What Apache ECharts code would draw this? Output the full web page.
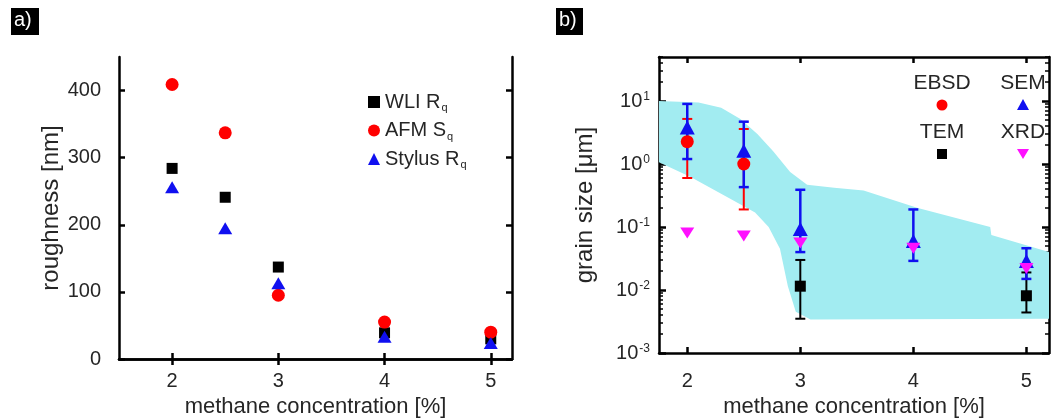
<!DOCTYPE html>
<html>
<head>
<meta charset="utf-8">
<script src="https://cdn.jsdelivr.net/npm/echarts@6/dist/echarts.min.js"></script>
<style>
  html, body { margin: 0; padding: 0; background: #fff; }
  #chart { width: 1061px; height: 420px; }
</style>
</head>
<body>
<div id="chart"></div>
<script>
// ---- a) roughness ----
const methane = [2, 2.5, 3, 4, 5];
const wliRq = [284, 241, 137, 39, 30];
const afmSq = [409, 337, 95, 55, 40];
const stylusRq = [256, 195, 113, 33, 24];
const xTicks = [2, 3, 4, 5];
const roughTicks = [0, 100, 200, 300, 400];

// ---- b) grain size ----
const ebsdX = [2, 2.5];
const ebsdVal = [2.26, 1.0];
const ebsdLow = [0.6, 0.19];
const ebsdHigh = [5.2, 3.6];
const semX = [2, 2.5, 3, 4, 5];
const semVal = [3.8, 1.63, 0.093, 0.06, 0.029];
const semLow = [1.2, 0.43, 0.04, 0.029, 0.015];
const semHigh = [9.0, 4.7, 0.39, 0.19, 0.046];
const temX = [3, 5];
const temVal = [0.0115, 0.0081];
const temLow = [0.0035, 0.0044];
const temHigh = [0.03, 0.019];
const xrdX = [2, 2.5, 3, 4, 5];
const xrdVal = [0.08, 0.072, 0.056, 0.046, 0.022];
// shaded band (upper / lower edge)
const bandUpX = [1.75, 2.1, 2.3, 2.47, 2.62, 2.76, 2.91, 3.06, 3.3, 3.56, 4.04, 4.68, 4.69, 5.2];
const bandUp = [10, 9.5, 7.8, 5.2, 3.0, 1.6, 0.75, 0.47, 0.42, 0.38, 0.2, 0.1, 0.075, 0.04];
const bandLoX = [1.75, 2.03, 2.38, 2.6, 2.72, 2.82, 2.89, 2.96, 3.09, 5.2];
const bandLo = [1.07, 0.62, 0.28, 0.17, 0.1, 0.045, 0.0115, 0.0045, 0.0034, 0.0035];
const logTicks = [0.001, 0.01, 0.1, 1, 10];

// minor ticks 2..9 per decade
const logMinor = [];
for (let e = -3; e <= 1; e++) {
  for (let m = 2; m <= 9; m++) {
    const v = m * Math.pow(10, e);
    if (v <= 50) logMinor.push(v);
  }
}

const FONT = 'Liberation Sans';
const TXT = '#262626';

function zip(xs, ...cols) {
  return xs.map((x, i) => [x].concat(cols.map(c => c[i])));
}

function errorBar(color, lw, cap) {
  return function (params, api) {
    const x = api.value(0);
    const lo = api.coord([x, api.value(1)]);
    const hi = api.coord([x, api.value(2)]);
    const style = { stroke: color, lineWidth: lw };
    return {
      type: 'group',
      children: [
        { type: 'line', shape: { x1: lo[0], y1: lo[1], x2: hi[0], y2: hi[1] }, style: style },
        { type: 'line', shape: { x1: lo[0] - cap, y1: lo[1], x2: lo[0] + cap, y2: lo[1] }, style: style },
        { type: 'line', shape: { x1: hi[0] - cap, y1: hi[1], x2: hi[0] + cap, y2: hi[1] }, style: style }
      ]
    };
  };
}

const axisLine = { show: true, lineStyle: { color: '#000', width: 2.5 } };
const tickStyle = { color: '#000', width: 2.5 };

function xAx(grid, min, pos, show, margin, gap) {
  return {
    type: 'value', gridIndex: grid, min: min, max: 5.2, position: pos,
    axisLine: axisLine,
    axisTick: { show: true, inside: true, length: 6, lineStyle: tickStyle, customValues: xTicks },
    axisLabel: { show: show, customValues: xTicks, fontFamily: FONT, fontSize: 20, color: TXT, margin: margin },
    splitLine: { show: false },
    name: show ? 'methane concentration [%]' : '',
    nameLocation: 'middle', nameGap: gap,
    nameTextStyle: { fontFamily: FONT, fontSize: 22, color: TXT }
  };
}

const option = {
  animation: false,
  backgroundColor: '#fff',
  grid: [
    { left: 119, top: 57, width: 393, height: 302, outerBoundsMode: 'none' },
    { left: 659, top: 57, width: 390, height: 296, outerBoundsMode: 'none' }
  ],
  xAxis: [
    xAx(0, 1.5, 'bottom', true, 12, 36),
    xAx(0, 1.5, 'top', false, 12, 36),
    xAx(1, 1.75, 'bottom', true, 18, 43),
    xAx(1, 1.75, 'top', false, 18, 43)
  ],
  yAxis: [
    {
      type: 'value', gridIndex: 0, min: 0, max: 450, position: 'left',
      axisLine: axisLine,
      axisTick: { inside: true, length: 6, lineStyle: tickStyle, customValues: roughTicks },
      axisLabel: { customValues: roughTicks, fontFamily: FONT, fontSize: 20, color: TXT, margin: 18 },
      splitLine: { show: false },
      name: 'roughness [nm]', nameLocation: 'middle', nameGap: 55,
      nameTextStyle: { fontFamily: FONT, fontSize: 24, color: TXT }
    },
    {
      type: 'value', gridIndex: 0, min: 0, max: 450, position: 'right',
      axisLine: axisLine,
      axisTick: { inside: true, length: 6, lineStyle: tickStyle, customValues: roughTicks },
      axisLabel: { show: false },
      splitLine: { show: false }
    },
    {
      type: 'log', logBase: 10, gridIndex: 1, min: 0.001, max: 50, position: 'left',
      axisLine: axisLine,
      axisTick: { inside: true, length: 7, lineStyle: tickStyle, customValues: logTicks },
      axisLabel: {
        customValues: logTicks, fontFamily: FONT, fontSize: 20, color: TXT, margin: 9,
        formatter: v => '10{sup|' + Math.round(Math.log10(v)) + '}',
        rich: { sup: { fontFamily: FONT, fontSize: 12, color: TXT, verticalAlign: 'top', padding: [0, 0, 6, 1] } }
      },
      splitLine: { show: false },
      name: 'grain size [μm]', nameLocation: 'middle', nameGap: 62,
      nameTextStyle: { fontFamily: FONT, fontSize: 24, color: TXT }
    },
    {
      type: 'log', logBase: 10, gridIndex: 1, min: 0.001, max: 50, position: 'right',
      axisLine: axisLine,
      axisTick: { inside: true, length: 7, lineStyle: tickStyle, customValues: logTicks },
      axisLabel: { show: false },
      splitLine: { show: false }
    },
    {
      type: 'log', logBase: 10, gridIndex: 1, min: 0.001, max: 50, position: 'left',
      axisLine: { show: false },
      axisTick: { inside: true, length: 4, lineStyle: { color: '#000', width: 1.5 }, customValues: logMinor },
      axisLabel: { show: false },
      splitLine: { show: false }
    },
    {
      type: 'log', logBase: 10, gridIndex: 1, min: 0.001, max: 50, position: 'right',
      axisLine: { show: false },
      axisTick: { inside: true, length: 4, lineStyle: { color: '#000', width: 1.5 }, customValues: logMinor },
      axisLabel: { show: false },
      splitLine: { show: false }
    }
  ],
  legend: {
    orient: 'vertical', left: 363, top: 87, itemGap: 7,
    itemWidth: 12, itemHeight: 12,
    data: ['WLI Rq', 'AFM Sq', 'Stylus Rq'],
    formatter: name => name.slice(0, -1) + '{sub|' + name.slice(-1) + '}',
    textStyle: {
      fontFamily: FONT, fontSize: 20, color: TXT,
      rich: { sub: { fontFamily: FONT, fontSize: 11, color: TXT, verticalAlign: 'bottom', padding: [12, 0, 0, 1] } }
    }
  },
  graphic: [
    { type: 'rect', left: 11, top: 8, shape: { width: 28, height: 27 }, style: { fill: '#000' } },
    { type: 'text', left: 14, top: 10, style: { text: 'a)', fill: '#fff', font: '20px ' + FONT } },
    { type: 'rect', left: 556, top: 8, shape: { width: 27, height: 27 }, style: { fill: '#000' } },
    { type: 'text', left: 559, top: 10, style: { text: 'b)', fill: '#fff', font: '20px ' + FONT } },
    // legend of b)
    { type: 'text', x: 942, y: 83, style: { text: 'EBSD', fill: TXT, font: '21px ' + FONT, align: 'center', verticalAlign: 'middle' } },
    { type: 'circle', shape: { cx: 942, cy: 105, r: 5.5 }, style: { fill: '#ff0000' } },
    { type: 'text', x: 1023, y: 83, style: { text: 'SEM', fill: TXT, font: '21px ' + FONT, align: 'center', verticalAlign: 'middle' } },
    { type: 'polygon', shape: { points: [[1017, 110], [1029, 110], [1023, 99]] }, style: { fill: '#1010f0' } },
    { type: 'text', x: 942, y: 132, style: { text: 'TEM', fill: TXT, font: '21px ' + FONT, align: 'center', verticalAlign: 'middle' } },
    { type: 'rect', shape: { x: 937, y: 149, width: 10, height: 10 }, style: { fill: '#000' } },
    { type: 'text', x: 1023, y: 132, style: { text: 'XRD', fill: TXT, font: '21px ' + FONT, align: 'center', verticalAlign: 'middle' } },
    { type: 'polygon', shape: { points: [[1017, 149], [1029, 149], [1023, 159]] }, style: { fill: '#ff10ff' } }
  ],
  series: [
    {
      name: 'WLI Rq', type: 'scatter', xAxisIndex: 0, yAxisIndex: 0,
      symbol: 'rect', symbolSize: 11, itemStyle: { color: '#000', opacity: 1 },
      data: zip(methane, wliRq)
    },
    {
      name: 'AFM Sq', type: 'scatter', xAxisIndex: 0, yAxisIndex: 0,
      symbol: 'circle', symbolSize: 13, itemStyle: { color: '#ff0000', opacity: 1 },
      data: zip(methane, afmSq)
    },
    {
      name: 'Stylus Rq', type: 'scatter', xAxisIndex: 0, yAxisIndex: 0,
      symbol: 'triangle', symbolSize: [14, 12], itemStyle: { color: '#1010f0', opacity: 1 },
      data: zip(methane, stylusRq)
    },
    // b) band
    {
      type: 'custom', xAxisIndex: 2, yAxisIndex: 2, clip: true, silent: true,
      data: zip(bandUpX, bandUp),
      encode: { x: 0, y: 1 },
      renderItem: function (params, api) {
        if (params.dataIndex !== 0) return null;
        const pts = [];
        for (let i = 0; i < bandUpX.length; i++) pts.push(api.coord([bandUpX[i], bandUp[i]]));
        for (let i = bandLoX.length - 1; i >= 0; i--) pts.push(api.coord([bandLoX[i], bandLo[i]]));
        return { type: 'polygon', shape: { points: pts }, style: { fill: '#a2ecf1' } };
      }
    },
    {
      type: 'custom', xAxisIndex: 2, yAxisIndex: 2,
      data: zip(temX, temLow, temHigh), encode: { x: 0, y: [1, 2] },
      renderItem: errorBar('#000', 2, 5)
    },
    {
      type: 'scatter', xAxisIndex: 2, yAxisIndex: 2,
      symbol: 'rect', symbolSize: 11, itemStyle: { color: '#000', opacity: 1 },
      data: zip(temX, temVal)
    },
    {
      type: 'custom', xAxisIndex: 2, yAxisIndex: 2,
      data: zip(ebsdX, ebsdLow, ebsdHigh), encode: { x: 0, y: [1, 2] },
      renderItem: errorBar('#ff0000', 2, 5)
    },
    {
      type: 'scatter', xAxisIndex: 2, yAxisIndex: 2,
      symbol: 'circle', symbolSize: 13, itemStyle: { color: '#ff0000', opacity: 1 },
      data: zip(ebsdX, ebsdVal)
    },
    {
      type: 'custom', xAxisIndex: 2, yAxisIndex: 2,
      data: zip(semX, semLow, semHigh), encode: { x: 0, y: [1, 2] },
      renderItem: errorBar('#1010f0', 2.5, 5)
    },
    {
      type: 'scatter', xAxisIndex: 2, yAxisIndex: 2,
      symbol: 'triangle', symbolSize: [15, 14], itemStyle: { color: '#1010f0', opacity: 1 },
      data: zip(semX, semVal)
    },
    {
      type: 'scatter', xAxisIndex: 2, yAxisIndex: 2,
      symbol: 'triangle', symbolRotate: 180, symbolSize: [14, 11], itemStyle: { color: '#ff10ff', opacity: 1 },
      data: zip(xrdX, xrdVal)
    }
  ]
};

const chart = echarts.init(document.getElementById('chart'), null, { renderer: 'canvas' });
chart.setOption(option);
</script>
</body>
</html>
